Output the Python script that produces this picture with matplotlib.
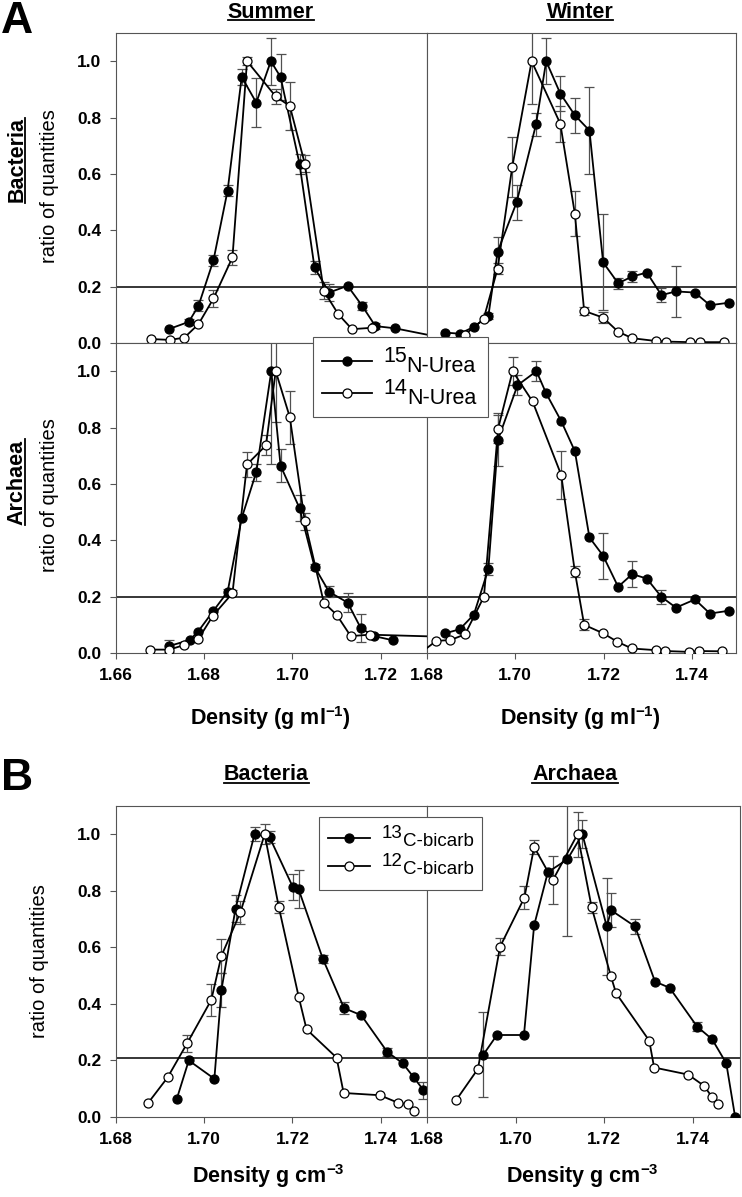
import matplotlib
matplotlib.use("Agg")
import matplotlib.pyplot as plt
from matplotlib.lines import Line2D
from matplotlib.patches import Rectangle
from matplotlib.ticker import FormatStrFormatter

plt.rcParams['font.family'] = ['Liberation Sans', 'DejaVu Sans']
plt.rcParams['font.weight'] = 'bold'
plt.rcParams['mathtext.fontset'] = 'custom'
plt.rcParams['mathtext.rm'] = 'Liberation Sans'
plt.rcParams['mathtext.bf'] = 'Liberation Sans:bold'
plt.rcParams['mathtext.it'] = 'Liberation Sans:italic'
plt.rcParams['mathtext.default'] = 'rm'

# ---------------- data (A: urea, B: bicarbonate) ----------------
# Summer, Bacteria
sb15_x = [1.6721, 1.6765, 1.6787, 1.6821, 1.6853, 1.6885, 1.6918, 1.6951, 1.6973, 1.7016, 1.7050, 1.7083, 1.7125, 1.7158, 1.7188, 1.7233, 1.7400]
sb15_y = [0.050, 0.075, 0.132, 0.294, 0.541, 0.944, 0.853, 1.000, 0.944, 0.636, 0.268, 0.179, 0.203, 0.132, 0.060, 0.052, 0.000]
sb15_e = [0, 0.01, 0.02, 0.02, 0.02, 0.03, 0.087, 0.083, 0.083, 0.036, 0.024, 0.03, 0, 0.015, 0.01, 0, 0]
sb14_x = [1.6680, 1.6722, 1.6755, 1.6787, 1.6821, 1.6864, 1.6897, 1.6962, 1.6994, 1.7028, 1.7071, 1.7104, 1.7135, 1.7180]
sb14_y = [0.014, 0.011, 0.019, 0.067, 0.158, 0.304, 1.000, 0.875, 0.841, 0.636, 0.185, 0.102, 0.049, 0.054]
sb14_e = [0, 0, 0, 0, 0.03, 0.027, 0.015, 0.027, 0.085, 0.03, 0.03, 0, 0, 0]
# Winter, Bacteria
wb15_x = [1.6841, 1.6874, 1.6906, 1.6939, 1.6960, 1.7003, 1.7047, 1.7070, 1.7102, 1.7135, 1.7168, 1.7199, 1.7233, 1.7265, 1.7298, 1.7331, 1.7364, 1.7407, 1.7441, 1.7484]
wb15_y = [0.037, 0.033, 0.057, 0.096, 0.324, 0.499, 0.776, 1.000, 0.885, 0.808, 0.754, 0.286, 0.212, 0.236, 0.250, 0.170, 0.183, 0.179, 0.134, 0.143]
wb15_e = [0, 0, 0, 0.01, 0.053, 0.062, 0.04, 0.082, 0.063, 0.062, 0.156, 0.17, 0.02, 0.02, 0, 0.025, 0.09, 0, 0, 0]
wb14_x = [1.6886, 1.6928, 1.6960, 1.6993, 1.7037, 1.7102, 1.7135, 1.7156, 1.7199, 1.7233, 1.7265, 1.7319, 1.7341, 1.7396, 1.7418, 1.7472]
wb14_y = [0.030, 0.084, 0.264, 0.624, 1.000, 0.778, 0.458, 0.114, 0.090, 0.040, 0.017, 0.007, 0.005, 0.003, 0.003, 0.003]
wb14_e = [0, 0, 0.02, 0.107, 0.153, 0.064, 0.08, 0.015, 0.02, 0, 0, 0, 0, 0, 0, 0]
# Summer, Archaea
sa15_x = [1.6721, 1.6767, 1.6786, 1.6820, 1.6853, 1.6885, 1.6918, 1.6952, 1.6973, 1.7016, 1.7050, 1.7083, 1.7125, 1.7155, 1.7185, 1.7228]
sa15_y = [0.025, 0.046, 0.076, 0.148, 0.217, 0.479, 0.642, 1.000, 0.665, 0.514, 0.306, 0.217, 0.179, 0.088, 0.060, 0.045]
sa15_e = [0.02, 0, 0, 0, 0.01, 0, 0.03, 0.33, 0.058, 0.045, 0.01, 0.02, 0.035, 0.05, 0, 0]
sa14_x = [1.6678, 1.6721, 1.6754, 1.6786, 1.6820, 1.6864, 1.6897, 1.6940, 1.6962, 1.6994, 1.7028, 1.7071, 1.7100, 1.7132, 1.7176, 1.7400]
sa14_y = [0.012, 0.012, 0.028, 0.048, 0.133, 0.212, 0.669, 0.737, 1.000, 0.837, 0.467, 0.179, 0.136, 0.060, 0.065, 0.055]
sa14_e = [0, 0, 0, 0, 0, 0.01, 0.045, 0.035, 0.18, 0.094, 0.03, 0, 0, 0, 0, 0]
# Winter, Archaea
wa15_x = [1.6841, 1.6874, 1.6906, 1.6939, 1.6961, 1.7005, 1.7048, 1.7070, 1.7104, 1.7135, 1.7168, 1.7199, 1.7233, 1.7265, 1.7298, 1.7331, 1.7364, 1.7407, 1.7441, 1.7484]
wa15_y = [0.070, 0.084, 0.136, 0.298, 0.757, 0.950, 1.000, 0.921, 0.823, 0.716, 0.410, 0.345, 0.235, 0.280, 0.264, 0.199, 0.161, 0.190, 0.140, 0.150]
wa15_e = [0, 0, 0, 0.02, 0.095, 0.035, 0.035, 0, 0, 0, 0, 0.081, 0, 0.045, 0, 0.025, 0, 0, 0, 0]
wa14_x = [1.6785, 1.6821, 1.6853, 1.6886, 1.6929, 1.6961, 1.6994, 1.7039, 1.7104, 1.7135, 1.7156, 1.7199, 1.7231, 1.7264, 1.7319, 1.7340, 1.7393, 1.7416, 1.7468]
wa14_y = [0.000, 0.043, 0.046, 0.066, 0.200, 0.796, 1.000, 0.893, 0.632, 0.288, 0.100, 0.070, 0.040, 0.016, 0.010, 0.007, 0.004, 0.007, 0.006]
wa14_e = [0, 0, 0, 0, 0, 0.05, 0.05, 0, 0.085, 0.02, 0.02, 0, 0, 0, 0, 0, 0, 0, 0]
# B: Bacteria
bb13_x = [1.6938, 1.6965, 1.7023, 1.7039, 1.7071, 1.7114, 1.7148, 1.7201, 1.7214, 1.7269, 1.7317, 1.7356, 1.7415, 1.7450, 1.7475, 1.7497]
bb13_y = [0.065, 0.200, 0.135, 0.450, 0.737, 1.000, 0.990, 0.813, 0.805, 0.559, 0.385, 0.360, 0.230, 0.190, 0.140, 0.095]
bb13_e = [0, 0, 0, 0.06, 0.047, 0.024, 0.02, 0.045, 0.067, 0.015, 0.02, 0, 0.015, 0, 0, 0.03]
bb12_x = [1.6873, 1.6917, 1.6961, 1.7016, 1.7039, 1.7082, 1.7137, 1.7169, 1.7214, 1.7232, 1.7300, 1.7316, 1.7398, 1.7440, 1.7462, 1.7475]
bb12_y = [0.050, 0.140, 0.260, 0.414, 0.570, 0.724, 1.000, 0.743, 0.426, 0.310, 0.210, 0.085, 0.077, 0.050, 0.045, 0.022]
bb12_e = [0, 0, 0.03, 0.055, 0.06, 0.04, 0.036, 0.02, 0, 0, 0, 0, 0, 0, 0, 0]
# B: Archaea
ba13_x = [1.6927, 1.6958, 1.7019, 1.7042, 1.7073, 1.7117, 1.7151, 1.7206, 1.7216, 1.7270, 1.7315, 1.7348, 1.7410, 1.7444, 1.7476, 1.7496]
ba13_y = [0.220, 0.290, 0.290, 0.678, 0.866, 0.911, 1.000, 0.674, 0.731, 0.674, 0.479, 0.457, 0.320, 0.275, 0.190, 0.000]
ba13_e = [0.15, 0, 0, 0, 0, 0.27, 0.05, 0.17, 0.06, 0.025, 0, 0, 0.015, 0, 0, 0]
ba12_x = [1.6866, 1.6915, 1.6965, 1.7020, 1.7042, 1.7084, 1.7140, 1.7172, 1.7215, 1.7227, 1.7302, 1.7313, 1.7390, 1.7426, 1.7444, 1.7458]
ba12_y = [0.060, 0.170, 0.602, 0.776, 0.955, 0.837, 1.000, 0.741, 0.500, 0.438, 0.270, 0.175, 0.150, 0.110, 0.070, 0.045]
ba12_e = [0, 0, 0.03, 0.04, 0.025, 0.085, 0.08, 0.02, 0, 0, 0, 0, 0, 0, 0, 0]

xticks_a_left = [1.66, 1.68, 1.70, 1.72]
xticks_other = [1.68, 1.70, 1.72, 1.74]
yticks = [0.0, 0.2, 0.4, 0.6, 0.8, 1.0]
legend_a = [("15", "N-Urea", True), ("14", "N-Urea", False)]
legend_b = [("13", "C-bicarb", True), ("12", "C-bicarb", False)]

# ---------------- figure ----------------
W, H = 742, 1197
fig = plt.figure(figsize=(W / 100, H / 100), dpi=100)
SPINE = '#555555'
ERR = '#505050'
MS = 6.5


def fx(x):
    return x / W


def fy(y):
    return 1 - y / H


def px_axes(x0, y0, x1, y1):
    return fig.add_axes([x0 / W, 1 - y1 / H, (x1 - x0) / W, (y1 - y0) / H])


def style(ax, xlim, xt, show_xl, show_y, href):
    ax.set_xlim(*xlim)
    ax.set_ylim(0, 1.1)
    ax.set_xticks(xt)
    ax.xaxis.set_major_formatter(FormatStrFormatter('%.2f'))
    ax.set_yticks(yticks)
    ax.yaxis.set_major_formatter(FormatStrFormatter('%.1f'))
    for s in ax.spines.values():
        s.set_color(SPINE)
        s.set_linewidth(0.8)
    ax.tick_params(axis='both', direction='out', length=4.5, width=0.8,
                   color=SPINE, labelsize=12.5, pad=6)
    ax.tick_params(axis='x', labelbottom=show_xl)
    if not show_y:
        ax.tick_params(axis='y', left=False, labelleft=False)
    ax.axhline(href, color='black', lw=1.1, zorder=1)


def series(ax, xs, ys, es, filled):
    ex = [x for x, e in zip(xs, es) if e > 0]
    ey = [y for y, e in zip(ys, es) if e > 0]
    ee = [e for e in es if e > 0]
    ax.errorbar(ex, ey, yerr=ee, fmt='none', ecolor=ERR, elinewidth=0.9,
                capsize=3.3, capthick=0.9, zorder=2)
    ax.plot(xs, ys, '-', color='black', lw=1.3, marker='o', ms=MS,
            mfc='black' if filled else 'white', mec='black', mew=0.9, zorder=3)


ax_sb = px_axes(116, 33, 427, 343)
ax_wb = px_axes(427, 33, 736, 343)
ax_sa = px_axes(116, 343, 427, 653)
ax_wa = px_axes(427, 343, 736, 653)
ax_bb = px_axes(116, 806, 427, 1117)
ax_ba = px_axes(427, 806, 740, 1117)

style(ax_sb, (1.66, 1.7305), xticks_a_left, False, True, 0.2)
style(ax_wb, (1.68, 1.75), xticks_other, False, False, 0.2)
style(ax_sa, (1.66, 1.7305), xticks_a_left, True, True, 0.198)
style(ax_wa, (1.68, 1.75), xticks_other, True, False, 0.198)
style(ax_bb, (1.68, 1.7505), xticks_other, True, True, 0.207)
style(ax_ba, (1.68, 1.7507), xticks_other, True, False, 0.207)

series(ax_sb, sb15_x, sb15_y, sb15_e, True)
series(ax_sb, sb14_x, sb14_y, sb14_e, False)
series(ax_wb, wb15_x, wb15_y, wb15_e, True)
series(ax_wb, wb14_x, wb14_y, wb14_e, False)
series(ax_sa, sa15_x, sa15_y, sa15_e, True)
series(ax_sa, sa14_x, sa14_y, sa14_e, False)
series(ax_wa, wa15_x, wa15_y, wa15_e, True)
series(ax_wa, wa14_x, wa14_y, wa14_e, False)
series(ax_bb, bb13_x, bb13_y, bb13_e, True)
series(ax_bb, bb12_x, bb12_y, bb12_e, False)
series(ax_ba, ba13_x, ba13_y, ba13_e, True)
series(ax_ba, ba12_x, ba12_y, ba12_e, False)

# ---------------- texts ----------------
underlined = []
underlined.append(fig.text(fx(271), fy(12), "Summer", fontsize=15.5, ha='center', va='center'))
underlined.append(fig.text(fx(580), fy(12), "Winter", fontsize=15.5, ha='center', va='center'))
underlined.append(fig.text(fx(266), fy(775), "Bacteria", fontsize=15.5, ha='center', va='center'))
underlined.append(fig.text(fx(575), fy(775), "Archaea", fontsize=15.5, ha='center', va='center'))
rot_underlined = []
rot_underlined.append(fig.text(fx(17), fy(160), "Bacteria", fontsize=15.5, rotation=90, ha='center', va='center'))
rot_underlined.append(fig.text(fx(17), fy(482), "Archaea", fontsize=15.5, rotation=90, ha='center', va='center'))

fig.text(fx(50), fy(186), "ratio of quantities", fontsize=14.5, fontweight='normal', rotation=90, ha='center', va='center')
fig.text(fx(50), fy(495), "ratio of quantities", fontsize=14.5, fontweight='normal', rotation=90, ha='center', va='center')
fig.text(fx(40), fy(961), "ratio of quantities", fontsize=14.5, fontweight='normal', rotation=90, ha='center', va='center')

fig.text(fx(1), fy(1), "A", fontsize=32, ha='left', va='top')
fig.text(fx(1), fy(778), "B", fontsize=32, ha='left', va='center')

fig.text(fx(270), fy(718), r"Density (g ml$^{\mathbf{-1}}$)", fontsize=15.5, ha='center', va='center')
fig.text(fx(580), fy(718), r"Density (g ml$^{\mathbf{-1}}$)", fontsize=15.5, ha='center', va='center')
fig.text(fx(268), fy(1176), r"Density g cm$^{\mathbf{-3}}$", fontsize=15.5, ha='center', va='center')
fig.text(fx(582), fy(1176), r"Density g cm$^{\mathbf{-3}}$", fontsize=15.5, ha='center', va='center')


# ---------------- manual legends ----------------
def draw_legend(box, rows, fs, lx0, lx1, tx, sup_dy, base_dy):
    x0, y0, x1, y1 = box
    fig.add_artist(Rectangle((fx(x0), fy(y1)), (x1 - x0) / W, (y1 - y0) / H,
                             transform=fig.transFigure, facecolor='white',
                             edgecolor=SPINE, lw=0.8, zorder=10))
    pairs = []
    for yc, sup, rest, filled in rows:
        fig.add_artist(Line2D([fx(lx0), fx(lx1)], [fy(yc), fy(yc)], transform=fig.transFigure,
                              color='black', lw=1.3, zorder=11))
        fig.add_artist(Line2D([fx((lx0 + lx1) / 2)], [fy(yc)], transform=fig.transFigure,
                              marker='o', ms=MS, mfc='black' if filled else 'white',
                              mec='black', mew=0.9, lw=0, zorder=12))
        t1 = fig.text(fx(tx), fy(yc + sup_dy), sup, fontsize=fs, fontweight='normal',
                      ha='left', va='center', zorder=12)
        t2 = fig.text(fx(tx), fy(yc + base_dy), rest, fontsize=fs, fontweight='normal',
                      ha='left', va='center', zorder=12)
        pairs.append((t1, t2))
    return pairs


pairs = []
pairs += draw_legend((313, 337, 488, 417),
                     [(361, legend_a[0][0], legend_a[0][1], legend_a[0][2]),
                      (393, legend_a[1][0], legend_a[1][1], legend_a[1][2])],
                     15.5, 322, 372, 383, -4, 5)
pairs += draw_legend((319, 817, 482, 890),
                     [(838, legend_b[0][0], legend_b[0][1], legend_b[0][2]),
                      (866, legend_b[1][0], legend_b[1][1], legend_b[1][2])],
                     13.5, 328, 370, 382, -4, 4)

fig.canvas.draw()
renderer = fig.canvas.get_renderer()
for t1, t2 in pairs:
    bb = t1.get_window_extent(renderer)
    t2.set_x(bb.x1 / W)

for t in underlined:
    bb = t.get_window_extent(renderer)
    yline = (bb.y0 + 2.5) / H
    fig.add_artist(Line2D([bb.x0 / W, bb.x1 / W], [yline, yline], transform=fig.transFigure,
                          color='black', lw=1.3))
for t in rot_underlined:
    bb = t.get_window_extent(renderer)
    xline = (bb.x1 - 2.5) / W
    fig.add_artist(Line2D([xline, xline], [bb.y0 / H, bb.y1 / H], transform=fig.transFigure,
                          color='black', lw=1.3))

fig.savefig("out.png", dpi=100)
